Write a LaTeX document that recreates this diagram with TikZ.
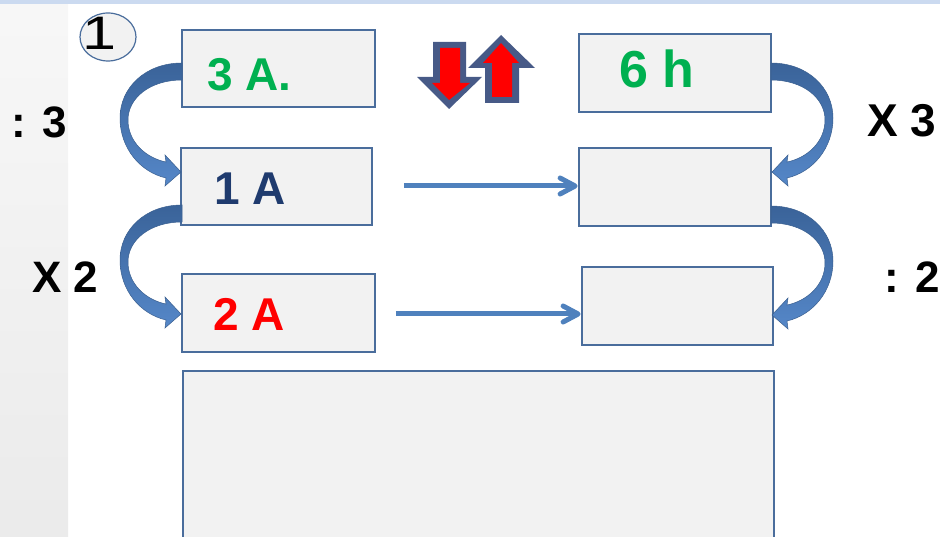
\documentclass[tikz,border=0pt]{standalone}
\usepackage{fontspec}
\setmainfont{Liberation Sans}
\usetikzlibrary{arrows.meta,shapes.geometric,calc}
\definecolor{boxblue}{HTML}{4A6D9C}
\definecolor{boxfill}{HTML}{F2F2F2}
\definecolor{arrdark}{HTML}{3A6399}
\definecolor{arrlight}{HTML}{5587C8}
\definecolor{arredge}{HTML}{3A5F8F}
\definecolor{linkblue}{HTML}{4F81BD}
\definecolor{udblue}{HTML}{475A87}
\definecolor{txtgreen}{HTML}{00B050}
\definecolor{txtnavy}{HTML}{1F3B6E}
\definecolor{topstrip}{HTML}{CBDAF0}
\tikzset{
  box/.style={draw=boxblue, line width=1.8pt, fill=boxfill, rectangle, inner sep=0pt},
  bigtxt/.style={font=\fontsize{46}{50}\selectfont\bfseries, inner sep=0pt, anchor=base west},
  link/.style={draw=linkblue, line width=5pt},
  barb/.style={draw=linkblue, line width=5pt, line cap=round, line join=round},
  curvarr/.pic={
    \path[draw=arredge, line width=0.5pt, top color=arrdark, bottom color=arrlight]
      (0,0) .. controls (-37,0) and (-62,25) .. (-62,55)
      .. controls (-62,85) and (-42,109) .. (-16,115)
      -- (-17,123) -- (-1,109) -- (-17,92) -- (-16,99)
      .. controls (-36,95) and (-54,79) .. (-54,57)
      .. controls (-54,35) and (-32,17) .. (0,17) -- cycle;
  }
}
\begin{document}
\begin{tikzpicture}[x=1pt,y=-1pt]
\useasboundingbox (0,0) rectangle (940,537);
\clip (0,0) rectangle (940,537);
% background
\shade[top color=white!97!black, bottom color=white!92!black] (0,0) rectangle (68,537);
\fill[topstrip] (0,0) rectangle (940,4);

% circled number
\node[draw=boxblue, line width=1.2pt, fill=boxfill, ellipse, minimum width=56pt, minimum height=48pt, inner sep=0pt] (circ) at (108,37) {};
\node[font=\fontsize{47}{50}\selectfont, inner sep=0pt, anchor=base west, xscale=1.3] (one) at (82,50) {1};

% boxes
\node[box, minimum width=193pt, minimum height=77pt] (b1) at (278.5,68.5) {};
\node[box, minimum width=191pt, minimum height=77pt] (b2) at (276.5,186.5) {};
\node[box, minimum width=193pt, minimum height=78pt] (b3) at (278.5,313) {};
\node[box, minimum width=192pt, minimum height=78pt] (b4) at (675,73) {};
\node[box, minimum width=192pt, minimum height=78pt] (b5) at (675,187) {};
\node[box, minimum width=191pt, minimum height=78pt] (b6) at (677.5,306) {};
\node[box, minimum width=591pt, minimum height=200pt, anchor=north west] (big) at (182,370) {};

% box texts
\node[bigtxt, text=txtgreen] (t1) at (207,91) {3 A.};
\node[bigtxt, text=txtgreen, font=\fontsize{52}{56}\selectfont\bfseries] (t4) at (619,88) {6 h};
\node[bigtxt, text=txtnavy] (t2) at (214,205) {1 A};
\node[bigtxt, text=red] (t3) at (213,331) {2 A};

% side labels
\node[bigtxt, font=\fontsize{44}{48}\selectfont\bfseries] (l1) at (11,138) {: 3};
\node[bigtxt] (r1) at (867,137) {X 3};
\node[bigtxt, font=\fontsize{44}{48}\selectfont\bfseries] (l2) at (32,293) {X 2};
\node[bigtxt, font=\fontsize{44}{48}\selectfont\bfseries] (r2) at (884,293) {: 2};

% curved arrows
\pic at (182,63) {curvarr};
\pic at (182,205) {curvarr};
\pic[xscale=-1] at (771,63) {curvarr};
\pic[xscale=-1] at (771,206) {curvarr};

% straight links
\coordinate (e1) at ($(b5.west |- 0,186)+(-3,0)$);
\coordinate (e2) at ($(b6.west |- 0,314)+(-3,0)$);
\draw[link, shorten <=31pt] (b2.east |- 0,186) -- (e1);
\draw[barb] ($(e1)+(-15,-8)$) -- (e1) -- ($(e1)+(-15,8)$);
\draw[link, shorten <=20pt] (b3.east |- 0,314) -- (e2);
\draw[barb] ($(e2)+(-15,-8)$) -- (e2) -- ($(e2)+(-15,8)$);

% up/down arrows
\fill[udblue] (433,42) -- (466,42) -- (466,77) -- (482,77) -- (449,109) -- (417,77) -- (433,77) -- cycle;
\fill[red] (440,48) -- (460,48) -- (460,83) -- (470,83) -- (449,100) -- (432,83) -- (440,83) -- cycle;
\fill[udblue] (485,103) -- (519,103) -- (519,68) -- (535,68) -- (501,35) -- (468,68) -- (485,68) -- cycle;
\fill[red] (492,97) -- (512,97) -- (512,63) -- (519,63) -- (501,43) -- (483,63) -- (492,63) -- cycle;
\end{tikzpicture}
\end{document}
